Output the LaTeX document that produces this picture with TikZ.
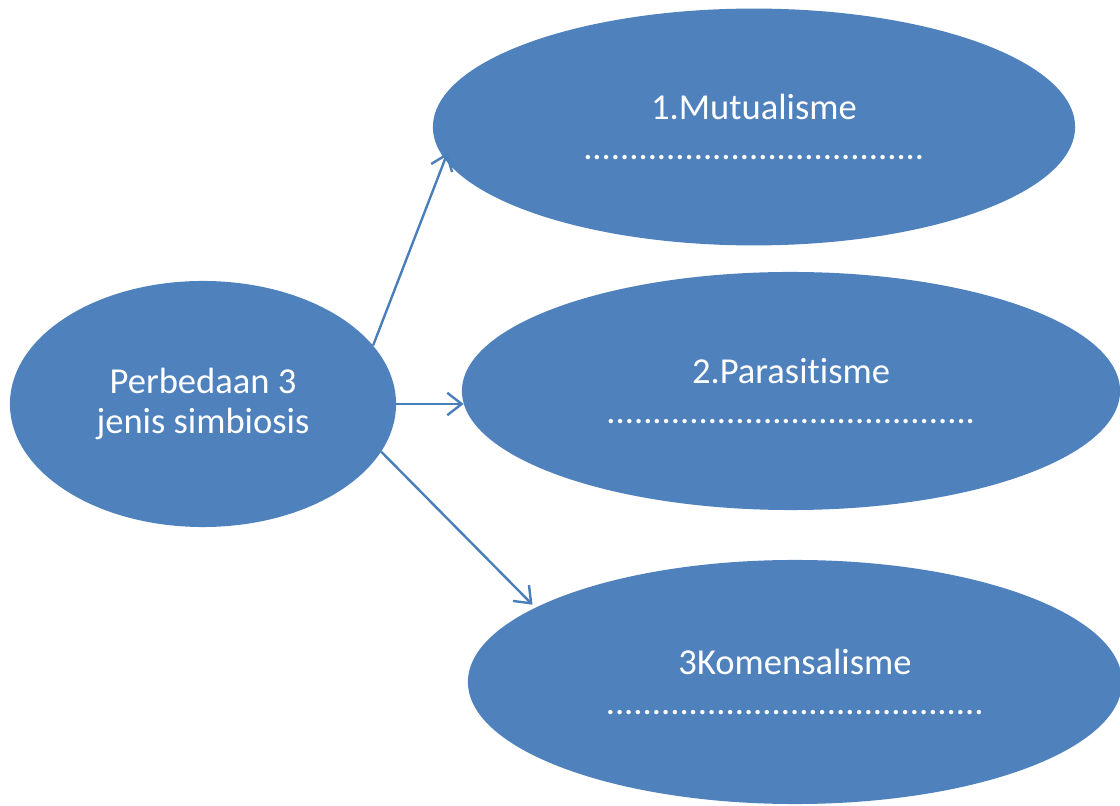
\documentclass[tikz,border=0pt]{standalone}
\usepackage{fontspec}
\setmainfont{Carlito}[Ligatures=NoCommon]
\usetikzlibrary{shapes.geometric,arrows.meta}

\definecolor{blobblue}{HTML}{4F81BD}
\definecolor{linkblue}{HTML}{4A7EBB}

\begin{document}
\begin{tikzpicture}[x=0.025cm,y=-0.025cm,
	blob/.style={ellipse,fill=blobblue,text=white,inner sep=0pt,align=center,font=\fontsize{26}{28.5}\selectfont},
	link/.style={draw=linkblue,line width=1.7pt,-{Straight Barb[length=0.36cm,width=0.56cm]}}]

\useasboundingbox (0,0) rectangle (1120,806);

\node [blob,minimum width=9.65cm,minimum height=6.15cm] at (203,404) (ctr) {Perbedaan 3\\jenis simbiosis};

%%%%%%%%%%%%%%%%%%%%%%%%%%%%%%%%%%%%%%%%%%%%%%%%%%%%%%%%%%%%%%%%

\node [blob,minimum width=16.05cm,minimum height=5.92cm] at (754,127) (mutu) {1.Mutualisme\\.....................................};
\node [blob,minimum width=16.45cm,minimum height=5.95cm] at (791,391) (para) {2.Parasitisme\\........................................};
\node [blob,minimum width=16.35cm,minimum height=6.1cm] at (795,682) (kome) {3Komensalisme\\.........................................};

%%%%%%%%%%%%%%%%%%%%%%%%%%%%%%%%%%%%%%%%%%%%%%%%%%%%%%%%%%%%%%%%

\draw [link,shorten >=-0.18cm] (ctr.19) -- (mutu.186.7);
\draw [link,shorten >=-0.05cm] (ctr.0) -- (ctr.0 -| para.west);
\draw [link,shorten >=0.1cm] (ctr.-15) -- (kome.164);

\end{tikzpicture}
\end{document}
